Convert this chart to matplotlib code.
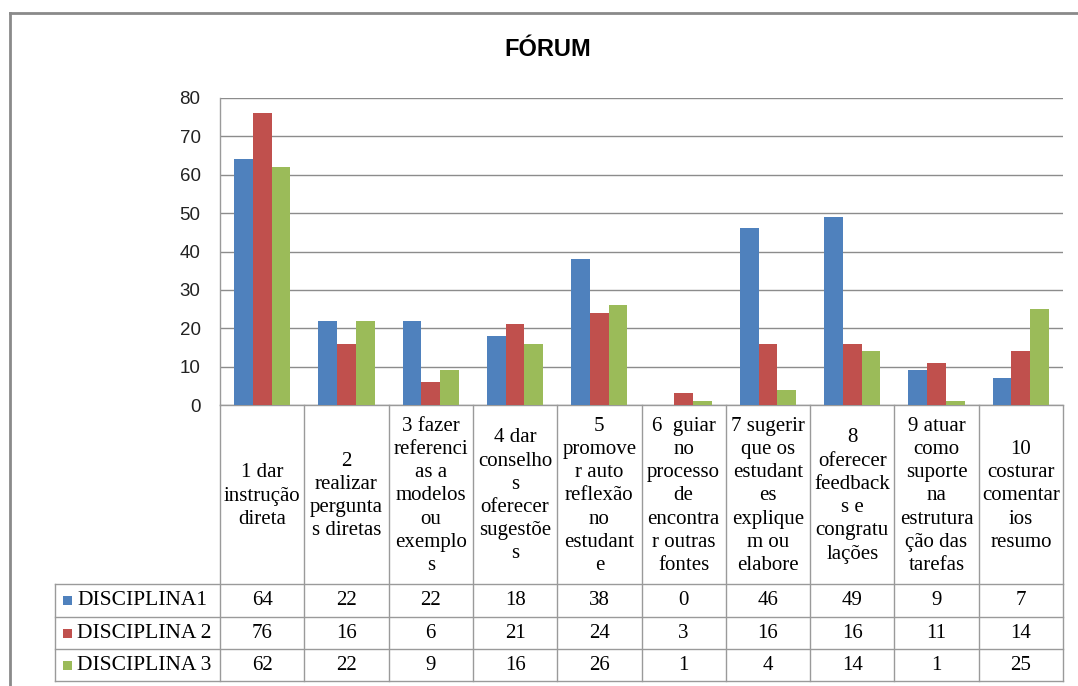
import matplotlib

matplotlib.use("Agg")
import matplotlib.pyplot as plt
from matplotlib.lines import Line2D
from matplotlib.patches import Rectangle
from matplotlib.transforms import blended_transform_factory
import numpy as np

# categories as they are wrapped in the original table header
categories = [
    "1 dar\ninstrução\ndireta",
    "2\nrealizar\npergunta\ns diretas",
    "3 fazer\nreferenci\nas a\nmodelos\nou\nexemplo\ns",
    "4 dar\nconselho\ns\noferecer\nsugestõe\ns",
    "5\npromove\nr auto\nreflexão\nno\nestudant\ne",
    "6  guiar\nno\nprocesso\nde\nencontra\nr outras\nfontes",
    "7 sugerir\nque os\nestudant\nes\nexplique\nm ou\nelabore",
    "8\noferecer\nfeedback\ns e\ncongratu\nlações",
    "9 atuar\ncomo\nsuporte\nna\nestrutura\nção das\ntarefas",
    "10\ncosturar\ncomentar\nios\nresumo",
]
series_names = ["DISCIPLINA1", "DISCIPLINA 2", "DISCIPLINA 3"]
disciplina1 = [64, 22, 22, 18, 38, 0, 46, 49, 9, 7]
disciplina2 = [76, 16, 6, 21, 24, 3, 16, 16, 11, 14]
disciplina3 = [62, 22, 9, 16, 26, 1, 4, 14, 1, 25]
yticks = [0, 10, 20, 30, 40, 50, 60, 70, 80]
title = "FÓRUM"

colors = ["#4F81BD", "#C0504D", "#9BBB59"]
GRID = "#8c8c8c"
LINE = "#9a9a9a"

W, H = 1078, 686


def fx(px):
    return px / W


def fy(py):
    return 1 - py / H


fig = plt.figure(figsize=(W / 100, H / 100), dpi=100)
fig.patch.set_facecolor("white")

# outer chart frame (only top and left visible in the crop)
fig.add_artist(Line2D([fx(10), 1.0], [fy(13), fy(13)], color="#8a8a8a", lw=2))
fig.add_artist(Line2D([fx(10), fx(10)], [fy(13), 0.0], color="#8a8a8a", lw=2))

fig.text(fx(548), fy(50), title, ha="center", va="center",
         fontsize=17, fontweight="bold", family="Liberation Sans")

ax = fig.add_axes([fx(220), fy(405), fx(1063) - fx(220), fy(98) - fy(405)])
x = np.arange(len(categories))
w = 1 / 4.5
for i, vals in enumerate([disciplina1, disciplina2, disciplina3]):
    ax.bar(x + (i - 1) * w, vals, width=w, color=colors[i], zorder=3)

ax.set_xlim(-0.5, len(categories) - 0.5)
ax.set_ylim(0, 80)
ax.set_yticks(yticks)
ax.set_xticks([])
ax.yaxis.grid(True, color=GRID, lw=1, zorder=0)
ax.set_axisbelow(True)
for side in ["top", "right"]:
    ax.spines[side].set_visible(False)
for side in ["left", "bottom"]:
    ax.spines[side].set_color(LINE)
    ax.spines[side].set_linewidth(1)
ax.tick_params(axis="y", length=0, pad=14, labelsize=13.5, labelcolor="#222222")
for lab in ax.get_yticklabels():
    lab.set_family("Liberation Sans")

# data table below the plot
trans = blended_transform_factory(ax.transData, fig.transFigure)
row_lines = [584, 617, 649, 681]
serif = "Liberation Serif"

for k in range(len(categories) + 1):
    fig.add_artist(Line2D([k - 0.5, k - 0.5], [fy(405), fy(681)],
                          transform=trans, color=LINE, lw=1))
for py in row_lines:
    fig.add_artist(Line2D([fx(55), fx(1063)], [fy(py), fy(py)], color=LINE, lw=1))
fig.add_artist(Line2D([fx(55), fx(55)], [fy(584), fy(681)], color=LINE, lw=1))

for j, cat in enumerate(categories):
    fig.text(j, fy(496), cat, transform=trans, ha="center", va="center",
             fontsize=15, family=serif, linespacing=1.3)

for r, vals in enumerate([disciplina1, disciplina2, disciplina3]):
    yc = (row_lines[r] + row_lines[r + 1]) / 2
    fig.add_artist(Rectangle((fx(63), fy(yc + 4.5)), fx(9), 9 / H,
                             facecolor=colors[r], edgecolor="none"))
    fig.text(fx(77), fy(yc), series_names[r], ha="left", va="center",
             fontsize=15.5, family=serif)
    for j, v in enumerate(vals):
        fig.text(j, fy(yc), str(v), transform=trans, ha="center", va="center",
                 fontsize=15, family=serif)

fig.savefig("out.png", dpi=100)
